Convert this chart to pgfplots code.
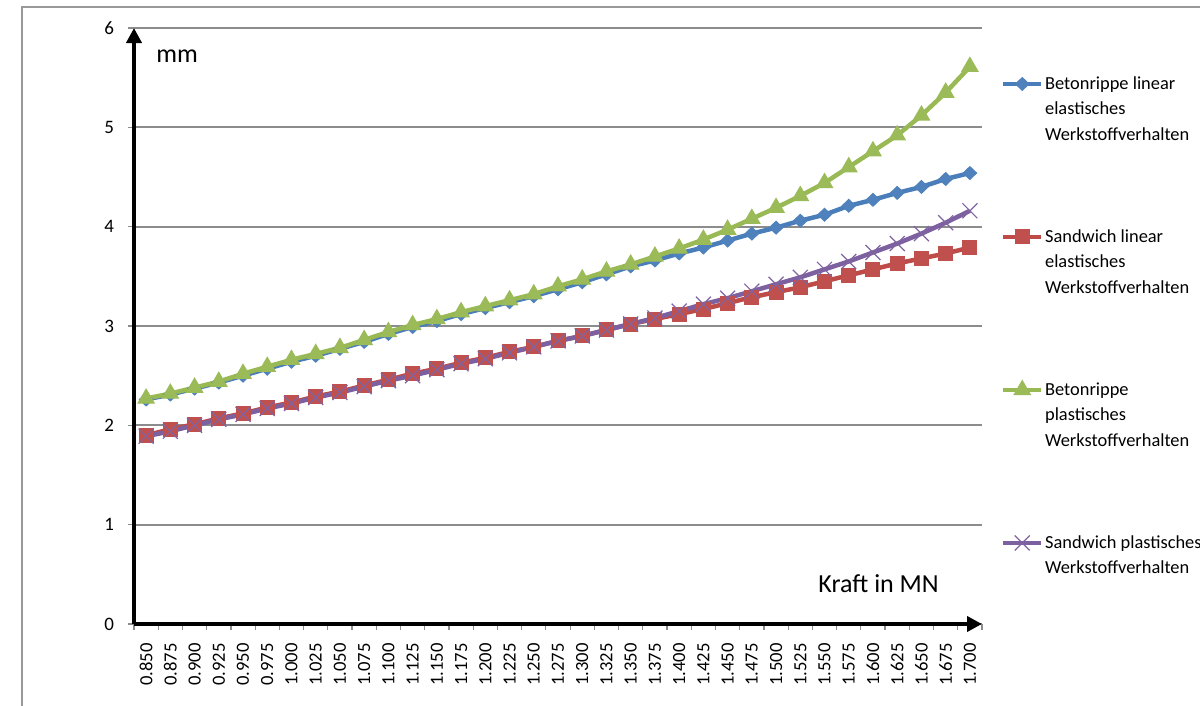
\documentclass[border=0pt]{standalone}
\usepackage{pgfplots}
\pgfplotsset{compat=1.18}
\usepackage{pgfplotstable}
\usepackage{fontspec}
\setmainfont{Carlito}
\usetikzlibrary{arrows.meta}
\definecolor{cblue}{HTML}{4A7EBB}
\definecolor{cbluef}{HTML}{4F81BD}
\definecolor{cred}{HTML}{BE4B48}
\definecolor{credf}{HTML}{C0504D}
\definecolor{cgreen}{HTML}{98B954}
\definecolor{cgreenf}{HTML}{9BBB59}
\definecolor{cpurple}{HTML}{7D60A0}
\definecolor{cpurplef}{HTML}{8064A2}
\definecolor{cgrid}{HTML}{8C8C8C}

\pgfplotstableread{
i g b r p
0 2.27 2.26 1.90 1.89
1 2.32 2.31 1.96 1.94
2 2.38 2.37 2.01 2.00
3 2.44 2.43 2.07 2.06
4 2.52 2.50 2.12 2.11
5 2.59 2.57 2.18 2.17
6 2.66 2.64 2.23 2.22
7 2.72 2.70 2.29 2.28
8 2.78 2.77 2.34 2.33
9 2.86 2.84 2.40 2.39
10 2.94 2.92 2.46 2.45
11 3.01 2.99 2.52 2.50
12 3.07 3.05 2.57 2.56
13 3.14 3.12 2.63 2.62
14 3.20 3.18 2.68 2.67
15 3.26 3.24 2.74 2.73
16 3.32 3.30 2.79 2.79
17 3.40 3.37 2.85 2.85
18 3.47 3.44 2.90 2.90
19 3.55 3.52 2.96 2.96
20 3.62 3.60 3.02 3.02
21 3.70 3.66 3.07 3.08
22 3.78 3.73 3.12 3.15
23 3.87 3.79 3.17 3.22
24 3.97 3.86 3.23 3.28
25 4.08 3.93 3.29 3.35
26 4.19 3.99 3.34 3.42
27 4.31 4.06 3.39 3.49
28 4.44 4.12 3.45 3.57
29 4.60 4.21 3.51 3.65
30 4.76 4.27 3.57 3.74
31 4.92 4.34 3.63 3.83
32 5.12 4.40 3.68 3.93
33 5.35 4.48 3.73 4.04
34 5.61 4.54 3.79 4.16
}\data

\begin{document}
\begin{tikzpicture}
\useasboundingbox (0,0) rectangle (600pt,353pt);
\draw[color=black!40, line width=0.6pt] (11pt,-5pt) -- (11pt,349.5pt) -- (610pt,349.5pt);
\begin{axis}[
  at={(67pt,41pt)}, anchor=south west,
  scale only axis, width=424pt, height=298pt,
  xmin=-0.5, xmax=34.5, ymin=0, ymax=6,
  axis lines*=left,
  axis line style={line width=2pt, -{Triangle[length=7.5pt,width=7.5pt]}},
  ymajorgrids, grid style={cgrid, line width=0.9pt},
  ytick={0,1,...,6},
  /pgf/number format/assume math mode=true,
  yticklabel style={xshift=-3.5pt, font=\fontsize{9.5}{11}\selectfont},
  xtick={-0.5,0.5,...,34.5},
  xticklabels={},
  extra x ticks={0,1,...,34},
  extra x tick labels={0.850,0.875,0.900,0.925,0.950,0.975,1.000,1.025,1.050,1.075,1.100,1.125,1.150,1.175,1.200,1.225,1.250,1.275,1.300,1.325,1.350,1.375,1.400,1.425,1.450,1.475,1.500,1.525,1.550,1.575,1.600,1.625,1.650,1.675,1.700},
  extra x tick style={major tick length=0pt, grid=none,
    xticklabel style={yshift=-9.5pt, rotate=90, anchor=east, inner sep=0pt, font=\fontsize{9.3}{11}\selectfont}},
  tick align=outside, major tick length=3pt,
  tick style={cgrid, line width=0.6pt},
  clip=false,
  legend style={draw=none, fill=none, at={(1.02241,0.92752)}, anchor=north west,
    inner sep=0pt, outer sep=0pt, row sep=0pt, column sep=0pt,
    font=\fontsize{9.2}{11}\selectfont,
    nodes={inner xsep=0.8pt, inner ysep=0pt, text height=9pt, text depth=3.75pt}},
  legend cell align=left,
  legend image code/.code={\draw[mark repeat=2,mark phase=2,#1] plot coordinates {(0pt,0pt) (9.5pt,0pt) (19pt,0pt)};},
]
\addplot[cblue, line width=2.25pt, mark=diamond*, mark size=3.2pt, mark options={fill=cbluef, draw=cbluef, line width=0.5pt, xscale=1.4}] table[x=i,y=b] {\data};
\addlegendentry{Betonrippe linear}
\addlegendimage{empty legend}\addlegendentry{elastisches}
\addlegendimage{empty legend}\addlegendentry{Werkstoffverhalten}
\addlegendimage{empty legend}\addlegendentry{}
\addlegendimage{empty legend}\addlegendentry{}
\addlegendimage{empty legend}\addlegendentry{}
\addplot[cred, line width=2.25pt, mark=square*, mark size=3.5pt, mark options={fill=credf, draw=credf, line width=0.5pt}] table[x=i,y=r] {\data};
\addlegendentry{Sandwich linear}
\addlegendimage{empty legend}\addlegendentry{elastisches}
\addlegendimage{empty legend}\addlegendentry{Werkstoffverhalten}
\addlegendimage{empty legend}\addlegendentry{}
\addlegendimage{empty legend}\addlegendentry{}
\addlegendimage{empty legend}\addlegendentry{}
\addplot[cgreen, line width=2.25pt, mark=triangle*, mark size=4.7pt, mark options={fill=cgreenf, draw=cgreenf, line width=0.5pt}] table[x=i,y=g] {\data};
\addlegendentry{Betonrippe}
\addlegendimage{empty legend}\addlegendentry{plastisches}
\addlegendimage{empty legend}\addlegendentry{Werkstoffverhalten}
\addlegendimage{empty legend}\addlegendentry{}
\addlegendimage{empty legend}\addlegendentry{}
\addlegendimage{empty legend}\addlegendentry{}
\addplot[cpurple, line width=2.25pt, mark=x, mark size=5.3pt, mark options={draw=cpurplef, line width=0.6pt}] table[x=i,y=p] {\data};
\addlegendentry{Sandwich plastisches}
\addlegendimage{empty legend}\addlegendentry{Werkstoffverhalten}
\end{axis}
\node[anchor=base west, font=\fontsize{13}{15}\selectfont, inner sep=0pt] at (78pt,321.5pt) {mm};
\node[anchor=base west, font=\fontsize{13}{15}\selectfont, inner sep=0pt] at (409pt,56.5pt) {Kraft in MN};
\end{tikzpicture}
\end{document}
